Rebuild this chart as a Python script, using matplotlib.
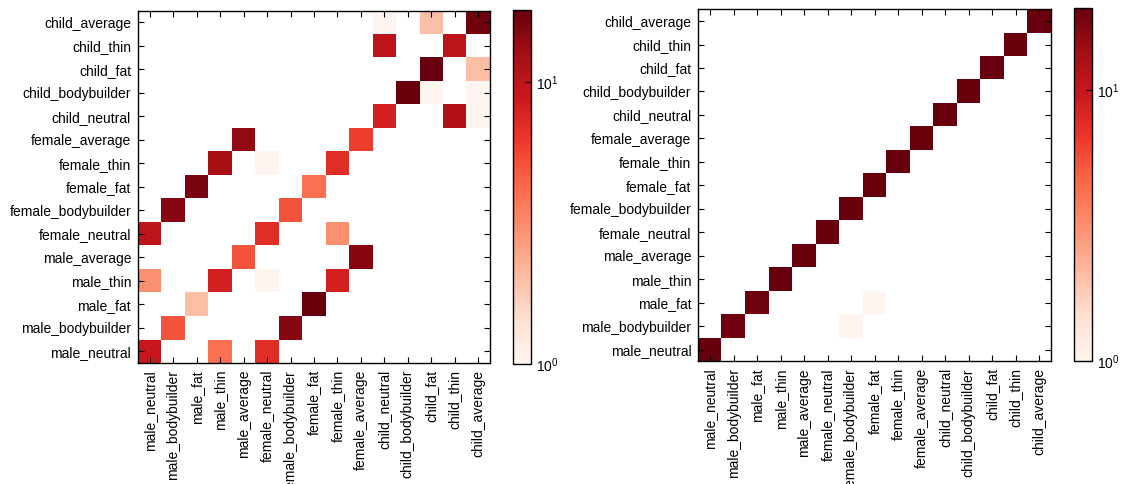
import matplotlib
matplotlib.use("Agg")
import matplotlib.pyplot as plt
import numpy as np
from matplotlib.colors import LogNorm
from matplotlib.ticker import NullLocator, FixedLocator, LogFormatterSciNotation

plt.rcParams["font.family"] = ["Liberation Sans", "DejaVu Sans"]
plt.rcParams["font.size"] = 10

labels = ["male_neutral", "male_bodybuilder", "male_fat", "male_thin", "male_average",
          "female_neutral", "female_bodybuilder", "female_fat", "female_thin", "female_average",
          "child_neutral", "child_bodybuilder", "child_fat", "child_thin", "child_average"]

# confusion counts: (true row, predicted column, count); rows listed bottom to top
left_cells = [
    (0, 0, 9), (0, 3, 4), (0, 5, 7),
    (1, 1, 5), (1, 6, 15),
    (2, 2, 2), (2, 7, 18),
    (3, 0, 3), (3, 3, 8), (3, 5, 1), (3, 8, 8),
    (4, 4, 5), (4, 9, 15),
    (5, 0, 10), (5, 5, 7), (5, 8, 3),
    (6, 1, 15), (6, 6, 5),
    (7, 2, 16), (7, 7, 4),
    (8, 3, 12), (8, 5, 1), (8, 8, 7),
    (9, 4, 14), (9, 9, 6),
    (10, 10, 8), (10, 13, 11), (10, 14, 1),
    (11, 11, 18), (11, 12, 1), (11, 14, 1),
    (12, 12, 18), (12, 14, 2),
    (13, 10, 10), (13, 13, 10),
    (14, 10, 1), (14, 12, 2), (14, 14, 17),
]
right_diag = [20, 19, 19, 20, 20, 20, 20, 20, 20, 20, 20, 20, 20, 20, 20]
right_off = [(1, 6, 1), (2, 7, 1)]


def build(cells, n):
    m = np.zeros((n, n))
    for r, c, v in cells:
        m[r, c] = v
    return m


n = len(labels)
left_mat = build(left_cells, n)
right_mat = build([(i, i, v) for i, v in enumerate(right_diag)] + right_off, n)

W, H = 1121, 484
fig = plt.figure(figsize=(W / 100, H / 100), dpi=100)


def px(x0, y0, x1, y1):
    return [x0 / W, 1 - y1 / H, (x1 - x0) / W, (y1 - y0) / H]


def draw(mat, ax_box, cb_box):
    ax = fig.add_axes(px(*ax_box))
    m = np.ma.masked_equal(mat, 0)
    im = ax.imshow(m, cmap="Reds", norm=LogNorm(vmin=1, vmax=mat.max()),
                   origin="lower", interpolation="nearest", aspect="auto")
    ax.set_xticks(range(n))
    ax.set_yticks(range(n))
    ax.set_xticklabels(labels, rotation=90)
    ax.set_yticklabels(labels)
    ax.tick_params(direction="in", top=True, right=True, length=4, width=0.8, pad=5)
    for s in ax.spines.values():
        s.set_linewidth(1.0)
    cax = fig.add_axes(px(*cb_box))
    cb = fig.colorbar(im, cax=cax)
    cb.ax.yaxis.set_major_locator(FixedLocator([1, 10]))
    cb.ax.yaxis.set_major_formatter(LogFormatterSciNotation())
    cb.ax.yaxis.set_minor_locator(NullLocator())
    cb.ax.tick_params(direction="in", length=4, width=0.8, labelsize=10)
    cb.outline.set_linewidth(1.0)
    return ax


draw(left_mat, (138, 10.7, 490, 363), (513.3, 10, 531, 364))
draw(right_mat, (698.3, 9.3, 1051, 361.3), (1074.3, 8.3, 1092.3, 361))

fig.savefig("out.png", dpi=100)
